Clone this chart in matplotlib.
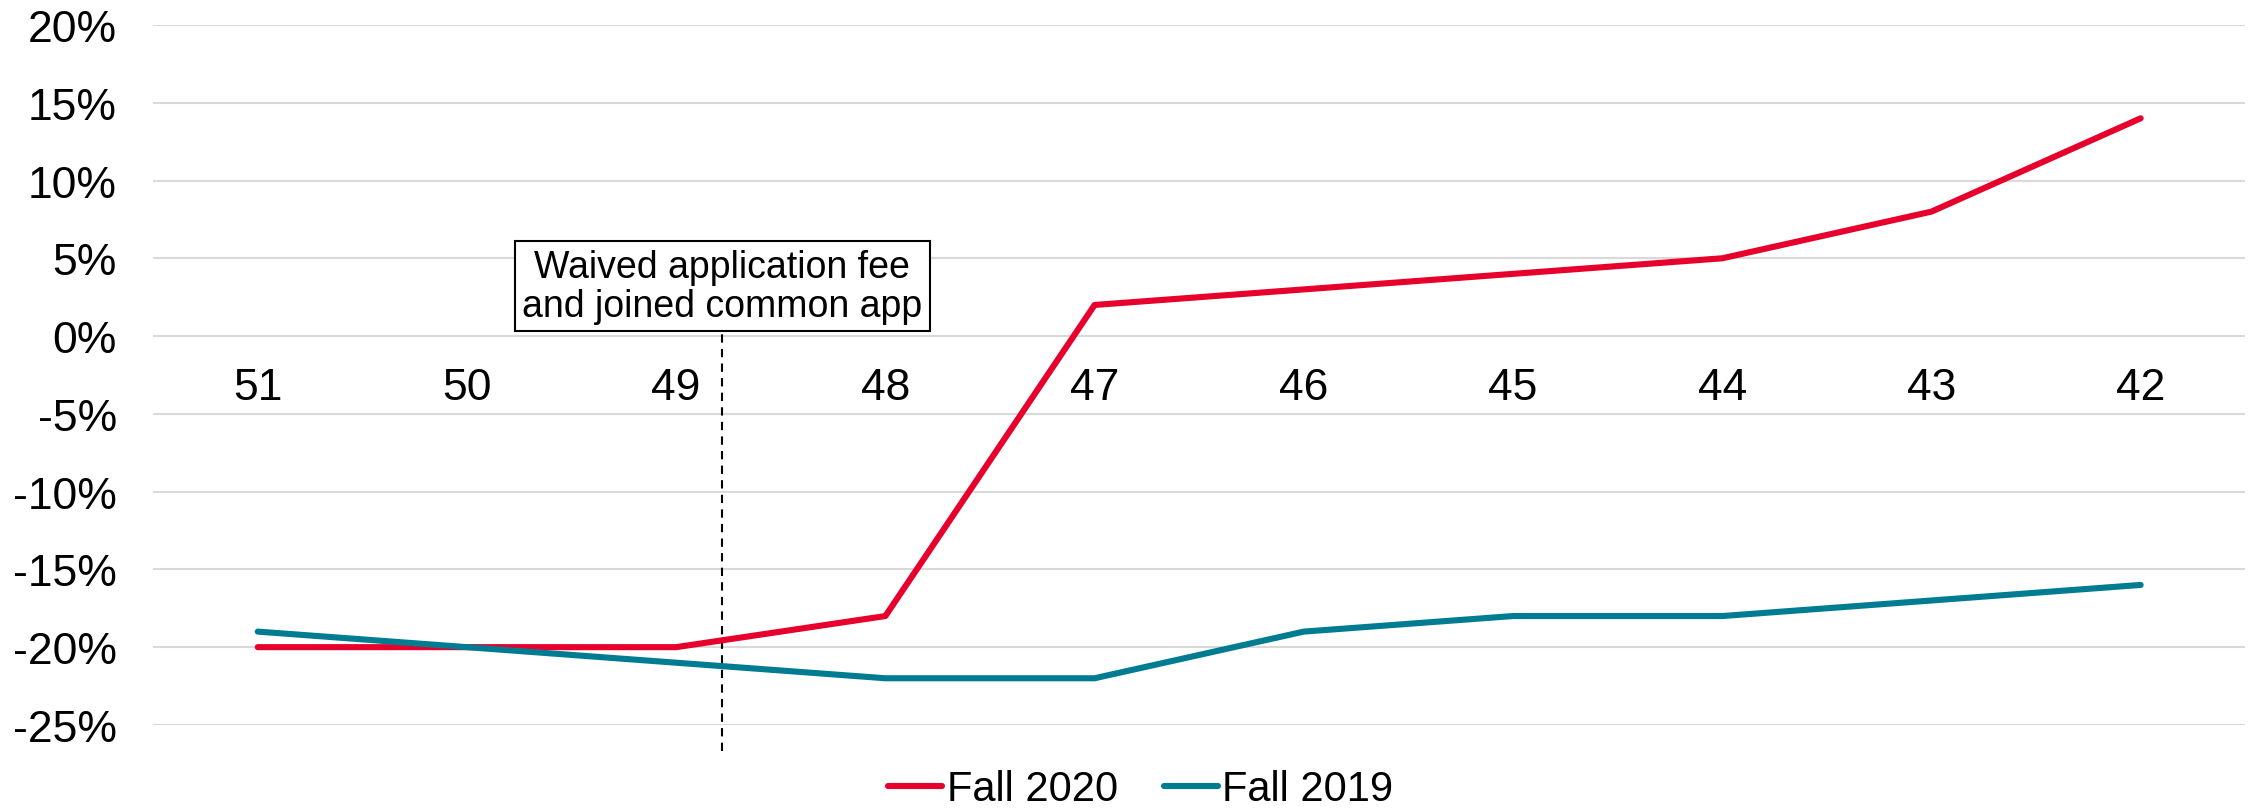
import numpy as np
import matplotlib.pyplot as plt
from matplotlib.ticker import FuncFormatter

plt.rcParams['font.family'] = ['Liberation Sans', 'DejaVu Sans']

weeks = ['51', '50', '49', '48', '47', '46', '45', '44', '43', '42']
fall_2020 = [-20, -20, -20, -18, 2, 3, 4, 5, 8, 14]
fall_2019 = [-19, -20, -21, -22, -22, -19, -18, -18, -17, -16]
note = "Waived application fee\nand joined common app"
note_x = 2.22   # between week 49 and 48

fig = plt.figure(figsize=(22.52, 8.12), dpi=100)
ax = fig.add_axes([0.068, 0.106, 0.929, 0.862])

x = np.arange(len(weeks))
ax.plot(x, fall_2020, color='#E8002D', lw=4.4, solid_capstyle='round', label='Fall 2020', zorder=3)
ax.plot(x, fall_2019, color='#007C92', lw=4.4, solid_capstyle='round', label='Fall 2019', zorder=3)

ax.set_xlim(-0.5, len(weeks) - 0.5)
ax.set_ylim(-25, 20)
ax.set_yticks(np.arange(-25, 21, 5))
ax.yaxis.set_major_formatter(FuncFormatter(lambda v, p: f"{v:.0f}%"))
ax.grid(axis='y', color='#D9D9D9', lw=1.5)
ax.set_axisbelow(True)

# category axis sits on the 0% line
ax.spines['bottom'].set_position(('data', 0))
for s in ax.spines.values():
    s.set_visible(False)
ax.set_xticks(x)
ax.set_xticklabels(weeks)
ax.tick_params(axis='x', length=0, pad=22, labelsize=32)
ax.tick_params(axis='y', length=0, pad=26, labelsize=32)

# event marker
ax.plot([note_x, note_x], [-26.7, 0.3], color='black', lw=1.5, ls=(0, (4, 3)), clip_on=False, zorder=2)
ax.text(note_x, 3.2, note, ha='center', va='center', fontsize=27, linespacing=1.1,
        bbox=dict(boxstyle='square,pad=0.2', fc='white', ec='black', lw=1.5), zorder=4)

ax.legend(loc='center', bbox_to_anchor=(0.472, -0.092), ncol=2, frameon=False,
          fontsize=30, handlelength=1.3, handletextpad=0.1, columnspacing=1.1)

fig.savefig('out.png', dpi=100)
